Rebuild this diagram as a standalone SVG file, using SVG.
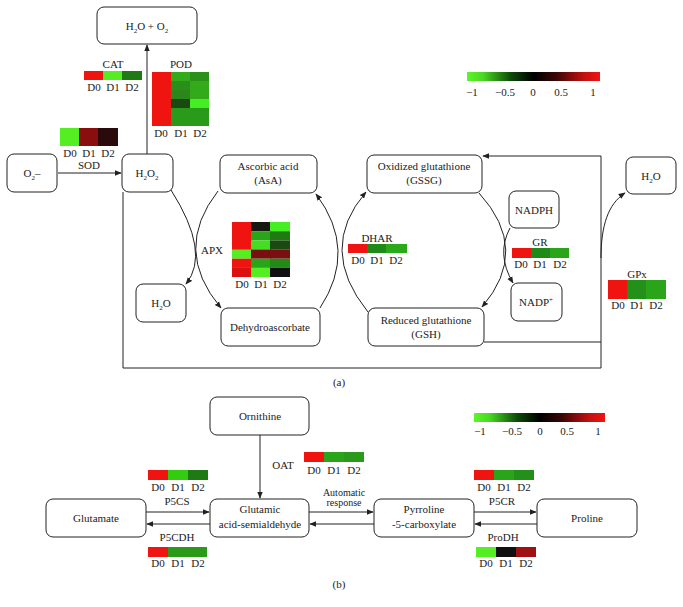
<svg xmlns="http://www.w3.org/2000/svg" width="683" height="607" viewBox="0 0 683 607">
<defs>
<marker id="ah" viewBox="0 0 10 10" refX="9" refY="5" markerWidth="7" markerHeight="7" orient="auto" markerUnits="userSpaceOnUse">
<path d="M0,1 L10,5 L0,9 Z" fill="#222"/>
</marker>
<linearGradient id="cb" x1="0" y1="0" x2="1" y2="0">
<stop offset="0" stop-color="#5cf52a"/>
<stop offset="0.12" stop-color="#48d822"/>
<stop offset="0.33" stop-color="#0d4a08"/>
<stop offset="0.5" stop-color="#000000"/>
<stop offset="0.67" stop-color="#3a0606"/>
<stop offset="0.88" stop-color="#c41010"/>
<stop offset="1" stop-color="#f21212"/>
</linearGradient>
<style>
text{font-family:"Liberation Serif","Times New Roman",serif;font-size:11px;fill:#222;text-anchor:middle}
.box{fill:#fff;stroke:#222;stroke-width:1}
.ln{fill:none;stroke:#222;stroke-width:1}
.arr{fill:none;stroke:#222;stroke-width:1;marker-end:url(#ah)}
.sub{font-size:7px}
.sm{font-size:10px}
.R{fill:#ef1410}.BG{fill:#55ee22}.G{fill:#2aa51a}.MG{fill:#289418}.DG{fill:#1f7a14}.VD{fill:#1a4a12}.K{fill:#15190f}.DR{fill:#7a0f0f}
</style>
</defs>

<!-- connectors -->
<g id="connectors">
<line class="arr" x1="147" y1="154" x2="147" y2="45"/>
<line class="arr" x1="58" y1="173" x2="121" y2="173"/>
<polyline class="ln" points="123,192 123,368 601,368 601,156"/>
<line class="arr" x1="601" y1="156" x2="483" y2="156"/>
<line class="ln" x1="484" y1="342" x2="601" y2="342"/>
<path class="arr" d="M171,190 Q211,253 186,284"/>
<path class="arr" d="M218,191 Q172,250 221,308"/>
<path class="arr" d="M320,308 Q358,250 316,194"/>
<path class="arr" d="M368,312 Q317,249 366,192"/>
<path class="arr" d="M479,193 Q531,250 482,307"/>
<path class="arr" d="M510,228 Q496,254 513,283"/>
<path class="arr" d="M601,258 C601,226 608,204 625,193"/>
<!-- part b -->
<line class="arr" x1="260" y1="435" x2="260" y2="498"/>
<line class="arr" x1="146" y1="512" x2="209" y2="512"/>
<line class="arr" x1="210" y1="524" x2="147" y2="524"/>
<line class="arr" x1="309" y1="512" x2="373" y2="512"/>
<line class="arr" x1="374" y1="524" x2="310" y2="524"/>
<line class="arr" x1="474" y1="512" x2="536" y2="512"/>
<line class="arr" x1="537" y1="524" x2="475" y2="524"/>
</g>

<!-- nodes part a -->
<g id="h2o_o2"><rect class="box" x="97" y="7" width="100" height="37" rx="7"/><text x="147" y="30">H<tspan class="sub" dy="3">2</tspan><tspan dy="-3">O + O</tspan><tspan class="sub" dy="3">2</tspan></text></g>
<g id="o2"><rect class="box" x="7" y="154" width="50" height="38" rx="7"/><text x="32" y="177">O<tspan class="sub" dy="3">2</tspan><tspan dy="-3">–</tspan></text></g>
<g id="h2o2"><rect class="box" x="122" y="154" width="51" height="38" rx="7"/><text x="147" y="177">H<tspan class="sub" dy="3">2</tspan><tspan dy="-3">O</tspan><tspan class="sub" dy="3">2</tspan></text></g>
<g id="h2o_left"><rect class="box" x="136" y="284" width="50" height="38" rx="7"/><text x="161" y="307">H<tspan class="sub" dy="3">2</tspan><tspan dy="-3">O</tspan></text></g>
<g id="asa"><rect class="box" x="220" y="155" width="97" height="38" rx="7"/><text x="268" y="170">Ascorbic acid</text><text x="268" y="184">(AsA)</text></g>
<g id="dha"><rect class="box" x="221" y="308" width="99" height="38" rx="7"/><text x="270" y="331">Dehydroascorbate</text></g>
<g id="gssg"><rect class="box" x="367" y="155" width="115" height="38" rx="7"/><text x="424" y="170">Oxidized glutathione</text><text x="424" y="184">(GSSG)</text></g>
<g id="gsh"><rect class="box" x="368" y="308" width="116" height="38" rx="7"/><text x="426" y="324">Reduced glutathione</text><text x="426" y="338">(GSH)</text></g>
<g id="nadph"><rect class="box" x="509" y="191" width="50" height="37" rx="7"/><text x="534" y="214">NADPH</text></g>
<g id="nadp"><rect class="box" x="511" y="283" width="51" height="38" rx="7"/><text x="536" y="306">NADP<tspan class="sub" dy="-4">+</tspan></text></g>
<g id="h2o_right"><rect class="box" x="626" y="157" width="50" height="37" rx="7"/><text x="651" y="180">H<tspan class="sub" dy="3">2</tspan><tspan dy="-3">O</tspan></text></g>

<!-- heatmaps part a -->
<g id="cat">
<text x="113" y="68">CAT</text>
<rect class="R" x="84" y="71" width="20" height="9"/><rect class="BG" x="103" y="71" width="20" height="9"/><rect class="DG" x="122" y="71" width="20" height="9"/>
<text x="94" y="91">D0</text><text x="113" y="91">D1</text><text x="132" y="91">D2</text>
</g>
<g id="pod">
<text x="181" y="68">POD</text>
<rect class="R" x="152" y="72" width="19" height="54"/>
<rect fill="#33aa1a" x="171" y="72" width="19" height="9"/><rect fill="#2a8f1a" x="171" y="81" width="19" height="9"/><rect fill="#2a881a" x="171" y="90" width="19" height="9"/><rect class="VD" x="171" y="99" width="19" height="9"/><rect fill="#2a9a1a" x="171" y="108" width="19" height="18"/>
<rect fill="#2a901a" x="190" y="72" width="19" height="9"/><rect fill="#33aa1a" x="190" y="81" width="19" height="18"/><rect fill="#44ee22" x="190" y="99" width="19" height="9"/><rect fill="#2a9a1a" x="190" y="108" width="19" height="18"/>
<text x="161" y="137">D0</text><text x="181" y="137">D1</text><text x="200" y="137">D2</text>
</g>
<g id="sod">
<rect class="BG" x="60" y="128" width="20" height="18"/><rect fill="#8a0e0e" x="79" y="128" width="20" height="18"/><rect fill="#2a0a0a" x="98" y="128" width="20" height="18"/>
<text x="70" y="157">D0</text><text x="89" y="157">D1</text><text x="108" y="157">D2</text>
<text x="89" y="169">SOD</text>
</g>
<g id="apx">
<text x="212" y="254">APX</text>
<rect class="R" x="232" y="222" width="20" height="28"/><rect class="BG" x="232" y="249.5" width="20" height="9.2"/><rect class="R" x="232" y="258.7" width="20" height="9.2"/><rect fill="#dd1010" x="232" y="267.9" width="20" height="9.1"/>
<rect class="K" x="251" y="222" width="20" height="9.2"/><rect class="G" x="251" y="231.2" width="20" height="9.2"/><rect fill="#44dd22" x="251" y="240.4" width="20" height="9.2"/><rect class="DR" x="251" y="249.5" width="20" height="9.2"/><rect class="G" x="251" y="258.7" width="20" height="9.2"/><rect class="BG" x="251" y="267.9" width="20" height="9.1"/>
<rect fill="#44ee22" x="270" y="222" width="20" height="9.2"/><rect class="DG" x="270" y="231.2" width="20" height="9.2"/><rect class="VD" x="270" y="240.4" width="20" height="9.2"/><rect class="DR" x="270" y="249.5" width="20" height="9.2"/><rect fill="#238a18" x="270" y="258.7" width="20" height="9.2"/><rect fill="#101010" x="270" y="267.9" width="20" height="9.1"/>
<text x="242" y="288">D0</text><text x="261" y="288">D1</text><text x="280" y="288">D2</text>
</g>
<g id="dhar">
<text x="377" y="242">DHAR</text>
<rect class="R" x="348" y="244" width="20" height="9"/><rect fill="#1f8a18" x="367" y="244" width="20" height="9"/><rect fill="#2aaa1a" x="386" y="244" width="21" height="9"/>
<text x="358" y="264">D0</text><text x="377" y="264">D1</text><text x="396" y="264">D2</text>
</g>
<g id="gr">
<text x="540" y="246">GR</text>
<rect class="R" x="512" y="248" width="19" height="10"/><rect fill="#1f8a18" x="531" y="248" width="19" height="10"/><rect class="G" x="550" y="248" width="19" height="10"/>
<text x="521" y="268">D0</text><text x="540" y="268">D1</text><text x="560" y="268">D2</text>
</g>
<g id="gpx">
<text x="637" y="278">GPx</text>
<rect class="R" x="608" y="280" width="20" height="19"/><rect fill="#23901a" x="627" y="280" width="20" height="19"/><rect class="G" x="646" y="280" width="20" height="19"/>
<text x="618" y="309">D0</text><text x="637" y="309">D1</text><text x="656" y="309">D2</text>
</g>
<g id="colorbar_a">
<rect x="467" y="72" width="133" height="9" fill="url(#cb)"/>
<text x="472" y="96">−1</text><text x="505" y="96">−0.5</text><text x="533" y="96">0</text><text x="561" y="96">0.5</text><text x="593" y="96">1</text>
</g>
<text x="339" y="386">(a)</text>

<!-- nodes part b -->
<g id="ornithine"><rect class="box" x="210" y="397" width="99" height="38" rx="7"/><text x="260" y="420">Ornithine</text></g>
<g id="glutamate"><rect class="box" x="46" y="499" width="100" height="38" rx="7"/><text x="96" y="522">Glutamate</text></g>
<g id="gsa"><rect class="box" x="210" y="499" width="99" height="38" rx="7"/><text x="260" y="513">Glutamic</text><text x="260" y="528">acid-semialdehyde</text></g>
<g id="p5c"><rect class="box" x="374" y="499" width="100" height="38" rx="7"/><text x="424" y="513">Pyrroline</text><text x="424" y="528">-5-carboxylate</text></g>
<g id="proline"><rect class="box" x="537" y="499" width="100" height="38" rx="7"/><text x="587" y="522">Proline</text></g>

<g id="oat">
<text x="283" y="469">OAT</text>
<rect class="R" x="304" y="452" width="20" height="10"/><rect class="G" x="324" y="452" width="20" height="10"/><rect fill="#2a9a1a" x="344" y="452" width="20" height="10"/>
<text x="314" y="474">D0</text><text x="334" y="474">D1</text><text x="354" y="474">D2</text>
</g>
<text class="sm" x="344" y="496">Automatic</text><text class="sm" x="344" y="506">response</text>
<g id="p5cs">
<rect class="R" x="148" y="470" width="20" height="10"/><rect fill="#33cc11" x="168" y="470" width="20" height="10"/><rect class="DG" x="188" y="470" width="20" height="10"/>
<text x="158" y="491">D0</text><text x="178" y="491">D1</text><text x="198" y="491">D2</text>
<text x="177" y="505">P5CS</text>
</g>
<g id="p5cdh">
<text x="177" y="541">P5CDH</text>
<rect class="R" x="148" y="547" width="20" height="10"/><rect fill="#2a9a1a" x="168" y="547" width="39" height="10"/>
<text x="158" y="567">D0</text><text x="178" y="567">D1</text><text x="198" y="567">D2</text>
</g>
<g id="p5cr">
<rect class="R" x="474" y="470" width="20" height="10"/><rect class="G" x="494" y="470" width="20" height="10"/><rect fill="#23901a" x="514" y="470" width="20" height="10"/>
<text x="484" y="491">D0</text><text x="504" y="491">D1</text><text x="524" y="491">D2</text>
<text x="502" y="505">P5CR</text>
</g>
<g id="prodh">
<text x="503" y="541">ProDH</text>
<rect class="BG" x="476" y="547" width="20" height="10"/><rect fill="#101010" x="496" y="547" width="20" height="10"/><rect fill="#a01010" x="516" y="547" width="20" height="10"/>
<text x="486" y="567">D0</text><text x="506" y="567">D1</text><text x="526" y="567">D2</text>
</g>
<g id="colorbar_b">
<rect x="474" y="413" width="131" height="9" fill="url(#cb)"/>
<text x="480" y="435">−1</text><text x="512" y="435">−0.5</text><text x="540" y="435">0</text><text x="567" y="435">0.5</text><text x="598" y="435">1</text>
</g>
<text x="339" y="588">(b)</text>
</svg>
